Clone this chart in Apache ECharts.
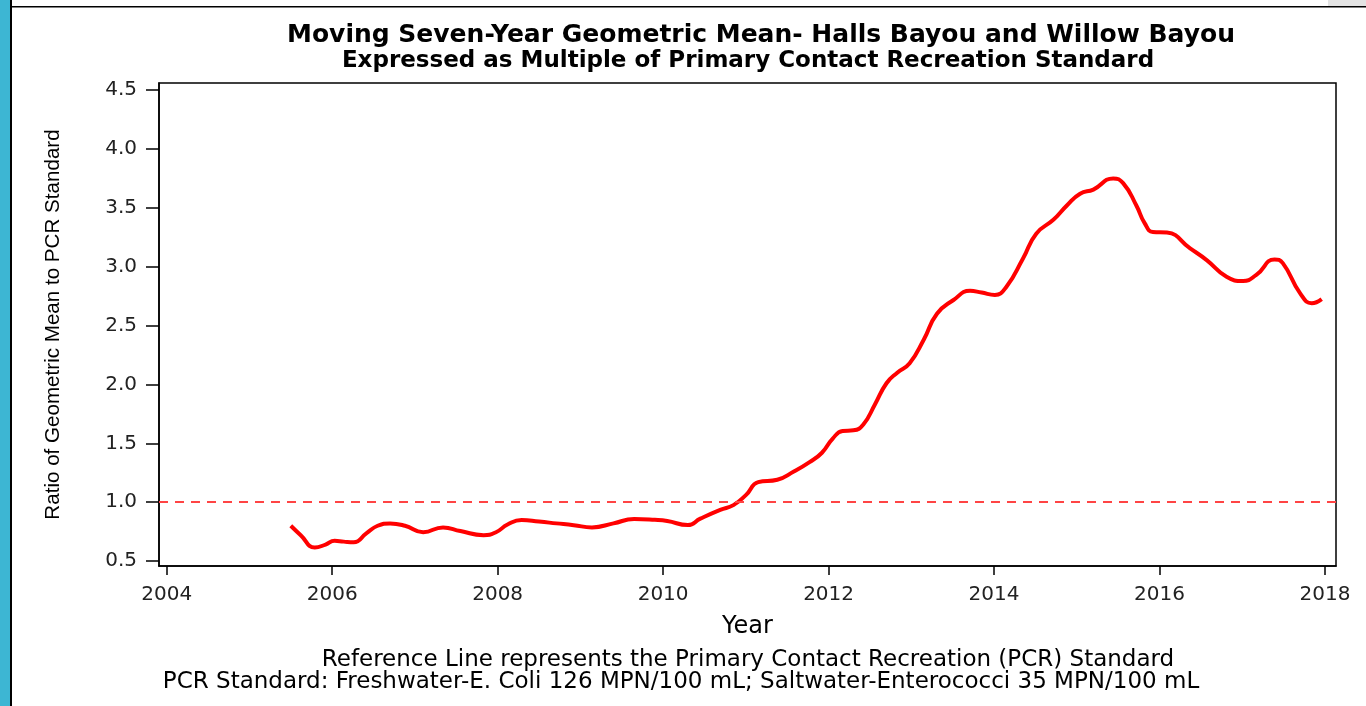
<!DOCTYPE html>
<html>
<head>
<meta charset="utf-8">
<script src="https://cdn.jsdelivr.net/npm/echarts@6/dist/echarts.min.js"></script>
<style>html,body{margin:0;padding:0;background:#fff;}#c{width:1366px;height:706px;}</style>
</head>
<body>
<div id="c"></div>
<script>
// ---- data ----
var years = [2005.50,2005.62,2005.79,2005.92,2006.03,2006.14,2006.26,2006.42,2006.55,2006.70,2006.88,2007.10,2007.34,2007.55,2007.83,2007.98,2008.12,2008.29,2008.50,2008.71,2008.92,2009.14,2009.40,2009.65,2009.90,2010.05,2010.30,2010.45,2010.69,2010.85,2011.00,2011.15,2011.38,2011.58,2011.77,2011.92,2012.05,2012.17,2012.30,2012.42,2012.56,2012.70,2012.83,2012.98,2013.15,2013.31,2013.51,2013.71,2013.85,2014.01,2014.15,2014.35,2014.51,2014.72,2014.88,2015.04,2015.20,2015.44,2015.56,2015.72,2015.82,2015.92,2016.09,2016.37,2016.57,2016.81,2017.01,2017.17,2017.39,2017.49,2017.70,2017.84,2017.96];
var ratios = [0.80,0.72,0.615,0.64,0.672,0.665,0.66,0.74,0.80,0.82,0.80,0.745,0.786,0.755,0.72,0.745,0.81,0.848,0.835,0.82,0.805,0.786,0.82,0.857,0.85,0.84,0.806,0.86,0.935,0.975,1.06,1.17,1.19,1.26,1.34,1.42,1.54,1.605,1.61,1.66,1.83,2.01,2.10,2.18,2.38,2.60,2.717,2.796,2.78,2.76,2.83,3.07,3.28,3.40,3.52,3.62,3.655,3.75,3.71,3.52,3.37,3.295,3.29,3.155,3.056,2.914,2.878,2.93,3.062,3.03,2.773,2.69,2.725];
var referenceLevel = 1.0;
var xTicks = [2004,2006,2008,2010,2012,2014,2016,2018];
var yTicks = [0.5,1.0,1.5,2.0,2.5,3.0,3.5,4.0,4.5];
var titleLine1 = 'Moving Seven-Year Geometric Mean- Halls Bayou and Willow Bayou';
var titleLine2 = 'Expressed as Multiple of Primary Contact Recreation Standard';
var footLine1 = 'Reference Line represents the Primary Contact Recreation (PCR) Standard';
var footLine2 = 'PCR Standard: Freshwater-E. Coli 126 MPN/100 mL; Saltwater-Enterococci 35 MPN/100 mL';
var xName = 'Year';
var yName = 'Ratio of Geometric Mean to PCR Standard';

var points = years.map(function (y, i) { return [y, ratios[i]]; });

var FONT = 'DejaVu Sans';
var chart = echarts.init(document.getElementById('c'), null, {renderer: 'canvas'});
chart.setOption({
  backgroundColor: '#fff',
  animation: false,
  title: [
    {text: titleLine1, left: 761, top: 23, textAlign: 'center', padding: 0,
     textStyle: {fontFamily: FONT, fontWeight: 'bold', fontSize: 25, color: '#000'}},
    {text: titleLine2, left: 748, top: 50, textAlign: 'center', padding: 0,
     textStyle: {fontFamily: FONT, fontWeight: 'bold', fontSize: 23, color: '#000'}},
    {text: footLine1, left: 748, top: 649, textAlign: 'center', padding: 0,
     textStyle: {fontFamily: FONT, fontWeight: 'normal', fontSize: 23, color: '#000'}},
    {text: footLine2, left: 681, top: 671, textAlign: 'center', padding: 0,
     textStyle: {fontFamily: FONT, fontWeight: 'normal', fontSize: 23, color: '#000'}}
  ],
  graphic: [
    {type: 'rect', left: 0, top: 0, shape: {width: 10, height: 706}, style: {fill: '#3db6d3'}, silent: true},
    {type: 'rect', left: 10, top: 0, shape: {width: 2, height: 706}, style: {fill: '#000'}, silent: true},
    {type: 'rect', left: 1328, top: 0, shape: {width: 38, height: 6}, style: {fill: '#e3e3e3'}, silent: true},
    {type: 'rect', left: 12, top: 6, shape: {width: 1354, height: 1.5}, style: {fill: '#000'}, silent: true}
  ],
  grid: {left: 159, top: 83, right: 30, bottom: 140, show: true, borderColor: '#000', borderWidth: 1.5, backgroundColor: '#fff'},
  xAxis: {
    type: 'value', min: 2003.907, max: 2018.133,
    name: xName, nameLocation: 'middle', nameGap: 49,
    nameTextStyle: {fontFamily: FONT, fontSize: 24, color: '#000'},
    axisLine: {show: true, onZero: false, lineStyle: {color: '#000', width: 1.5}},
    axisTick: {show: true, length: 9, customValues: xTicks, lineStyle: {color: '#000', width: 1.5}},
    axisLabel: {customValues: xTicks, margin: 19, fontFamily: FONT, fontSize: 20, color: '#222',
      formatter: function (v) { return String(Math.round(v)); }},
    splitLine: {show: false}
  },
  yAxis: {
    type: 'value', min: 0.458, max: 4.56,
    name: yName, nameLocation: 'middle', nameGap: 95, nameRotate: 90,
    nameTextStyle: {fontFamily: 'Liberation Sans', fontSize: 20.6, color: '#000'},
    axisLine: {show: true, onZero: false, lineStyle: {color: '#000', width: 1.5}},
    axisTick: {show: true, length: 13, customValues: yTicks, lineStyle: {color: '#000', width: 1.5}},
    axisLabel: {customValues: yTicks, margin: 22, fontFamily: FONT, fontSize: 20, color: '#222',
      formatter: function (v) { return v.toFixed(1); }},
    splitLine: {show: false}
  },
  series: [{
    type: 'line', data: points, smooth: true, showSymbol: false, symbol: 'none',
    lineStyle: {color: '#ff0000', width: 4}, clip: true,
    markLine: {
      silent: true, symbol: 'none', label: {show: false},
      lineStyle: {color: '#ff4444', type: [9, 7], width: 2},
      data: [{yAxis: referenceLevel}]
    }
  }]
});
</script>
</body>
</html>
